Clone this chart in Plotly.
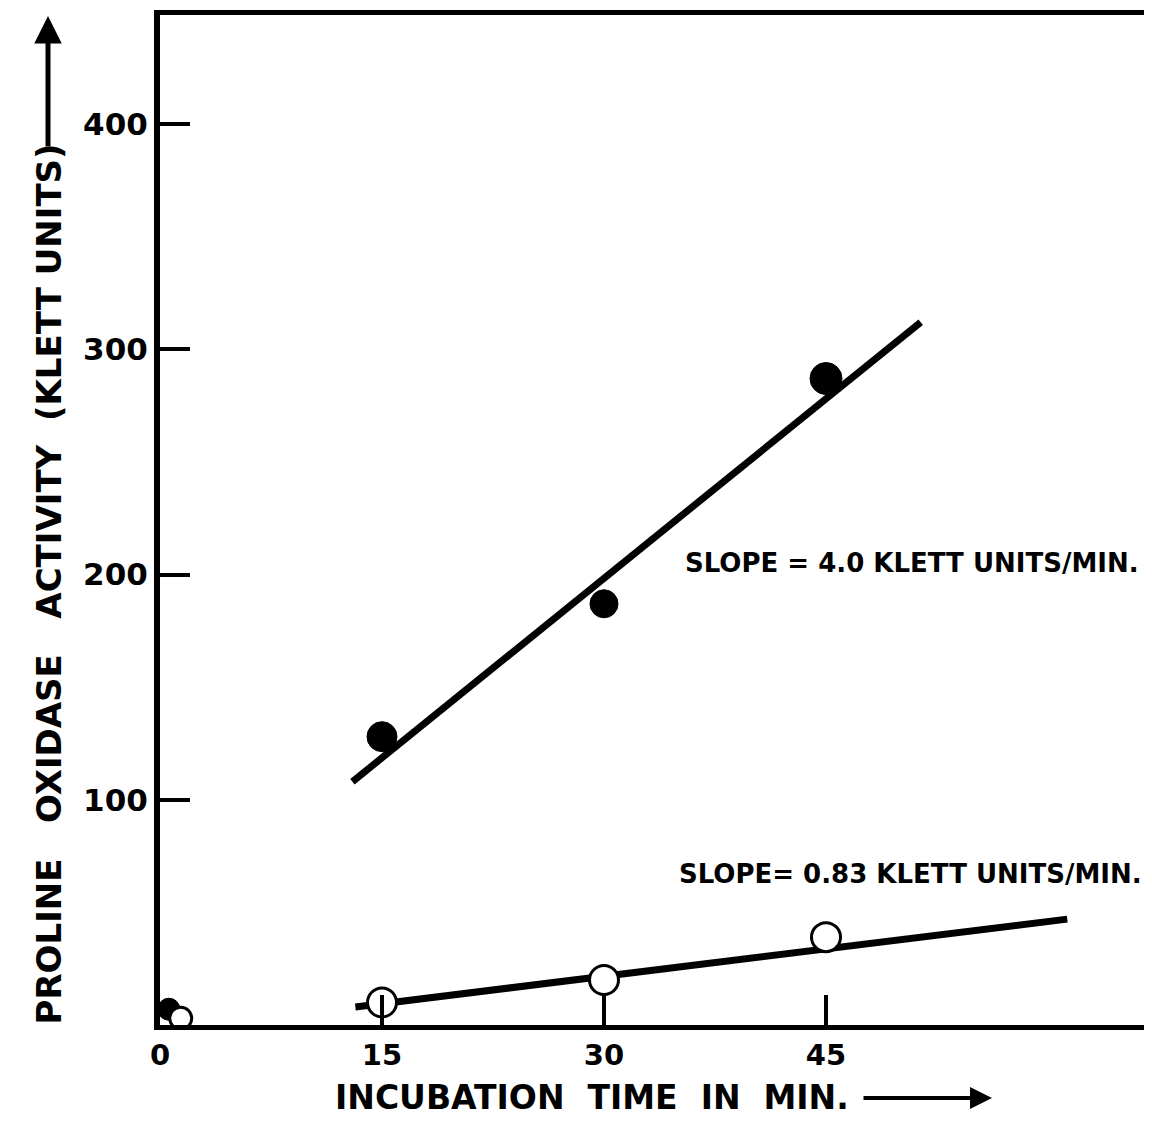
import plotly.graph_objects as go

# Data
time_ticks = [0, 15, 30, 45]
act_ticks = [100, 200, 300, 400]

filled_t = [0.6, 15, 30, 45]
filled_y = [7, 128, 187, 287]
open_t = [1.4, 15, 30, 45]
open_y = [3, 10, 20, 39]

fit_high_t = [13.0, 51.4]
fit_high_y = [108, 312]
fit_low_t = [13.2, 61.3]
fit_low_y = [8, 47]

label_high = "SLOPE = 4.0 KLETT UNITS/MIN."
label_low = "SLOPE= 0.83 KLETT UNITS/MIN."
x_title = "INCUBATION\u00a0 TIME\u00a0 IN\u00a0 MIN."
y_title = "PROLINE\u00a0\u00a0 OXIDASE\u00a0\u00a0 ACTIVITY\u00a0 (KLETT UNITS)"

FONT = "DejaVu Sans"

# plot area in page pixels (page has an 8px body margin)
L, R, T, B = 160, 1144, 15, 1025


def px(X):
    return (X - L) / (R - L)


def py(Y):
    return (B - Y) / (B - T)


fig = go.Figure()
fig.add_trace(go.Scatter(x=fit_high_t, y=fit_high_y, mode="lines",
                         line=dict(color="black", width=7), showlegend=False))
fig.add_trace(go.Scatter(x=fit_low_t, y=fit_low_y, mode="lines",
                         line=dict(color="black", width=7), showlegend=False))
fig.add_trace(go.Scatter(x=filled_t, y=filled_y, mode="markers",
                         marker=dict(color="black", size=[22, 30, 28, 32], opacity=1,
                                     line=dict(color="black", width=1)),
                         showlegend=False))
fig.add_trace(go.Scatter(x=open_t, y=open_y, mode="markers",
                         marker=dict(color="white", size=[22, 29, 29, 29], opacity=1,
                                     line=dict(color="black", width=3)),
                         showlegend=False))

fig.add_annotation(x=(683 - L) / 14.8, y=205, text=label_high, showarrow=False,
                   xanchor="left",
                   font=dict(family=FONT, size=26, color="black", weight="bold"))
fig.add_annotation(x=(677 - L) / 14.8, y=67, text=label_low, showarrow=False,
                   xanchor="left",
                   font=dict(family=FONT, size=26, color="black", weight="bold"))

# Axis titles with arrows
fig.add_annotation(xref="paper", yref="paper", x=px(333), y=py(1097),
                   xanchor="left", yanchor="middle",
                   text=x_title, showarrow=False,
                   font=dict(family=FONT, size=33, color="black", weight="bold"))
fig.add_annotation(xref="paper", yref="paper", x=px(992), y=py(1098),
                   ax=-130, ay=0, text="", showarrow=True, arrowhead=2,
                   arrowsize=1.1, arrowwidth=4, arrowcolor="black")
fig.add_annotation(xref="paper", yref="paper", x=px(48), y=py(1027),
                   xanchor="center", yanchor="bottom",
                   text=y_title, textangle=-90,
                   showarrow=False,
                   font=dict(family=FONT, size=34, color="black", weight="bold"))
fig.add_annotation(xref="paper", yref="paper", x=px(48), y=py(16),
                   ax=0, ay=132, text="", showarrow=True, arrowhead=2,
                   arrowsize=1.1, arrowwidth=5, arrowcolor="black")

fig.update_xaxes(range=[0, (R - L) / 14.8], tickvals=time_ticks,
                 ticktext=[str(v) for v in time_ticks],
                 ticks="inside", ticklen=30, tickwidth=4, tickcolor="black",
                 showline=True, linecolor="black", linewidth=5, mirror=True,
                 showgrid=False, zeroline=False,
                 tickfont=dict(family=FONT, size=29, color="black", weight="bold"))
fig.update_yaxes(range=[0, (B - T) / 2.2525], tickvals=act_ticks,
                 ticktext=[str(v) for v in act_ticks],
                 ticks="inside", ticklen=30, tickwidth=4, tickcolor="black",
                 showline=True, linecolor="black", linewidth=6,
                 showgrid=False, zeroline=False,
                 tickfont=dict(family=FONT, size=31, color="black", weight="bold"))

fig.update_layout(width=1136, height=1113,
                  margin=dict(l=L - 8, r=0, t=T - 8, b=1113 - (B - 8)),
                  plot_bgcolor="white", paper_bgcolor="white")

fig.write_html("out.html")
